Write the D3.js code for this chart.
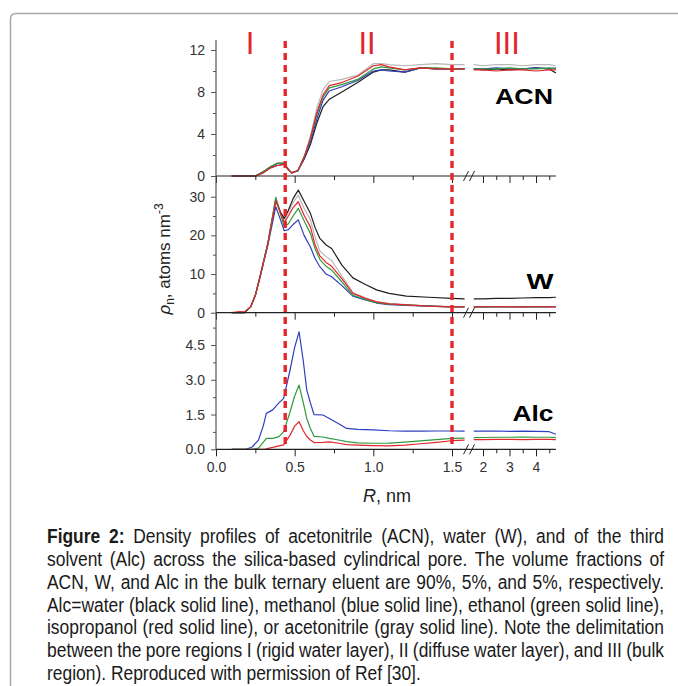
<!DOCTYPE html>
<html>
<head>
<meta charset="utf-8">
<script src="https://cdn.jsdelivr.net/npm/d3@7/dist/d3.min.js"></script>
<style>
  body { margin: 0; background: #fff; }
  svg { display: block; font-family: Arial, "Liberation Sans", sans-serif; }
</style>
</head>
<body>
<svg id="chart" width="678" height="686"></svg>
<script>
// ---- data (R in nm, density in atoms nm^-3) ----
var acnR     = [0.1, 0.25, 0.3, 0.35, 0.39, 0.43, 0.46, 0.48, 0.52, 0.56, 0.6, 0.64, 0.68, 0.72, 0.8, 0.9, 1.0, 1.05, 1.1, 1.2, 1.3, 1.4, 1.5, 1.58, 1.65, 2.0, 2.5, 3.0, 3.5, 4.0, 4.5, 4.75];
var acnBlack = [0, 0, 0.4, 0.9, 1.2, 1.2, 0.6, 0.3, 0.5, 1.6, 3.0, 5.0, 6.6, 7.3, 8.0, 8.9, 9.9, 10.1, 10.1, 9.9, 10.3, 10.2, 10.2, 10.2, 10.2, 10.1, 10.2, 10.1, 10.2, 10.3, 10.2, 9.8];
var acnBlue  = [0, 0, 0.3, 0.8, 1.0, 1.1, 0.6, 0.3, 0.5, 1.7, 3.2, 5.4, 7.2, 8.1, 8.5, 9.1, 10.0, 10.1, 10.0, 9.9, 10.3, 10.2, 10.2, 10.2, 10.2, 10.2, 10.3, 10.2, 10.2, 10.3, 10.2, 10.3];
var acnGreen = [0, 0, 0.4, 0.9, 1.2, 1.2, 0.6, 0.3, 0.5, 1.8, 3.5, 5.8, 7.5, 8.4, 8.7, 9.2, 10.2, 10.4, 10.3, 10.1, 10.3, 10.3, 10.2, 10.2, 10.2, 10.2, 10.2, 10.3, 10.2, 10.2, 10.3, 10.2];
var acnRed   = [0, 0, 0.3, 0.8, 1.0, 1.1, 0.6, 0.3, 0.5, 1.8, 3.6, 6.0, 7.7, 8.6, 8.9, 9.5, 10.5, 10.6, 10.4, 10.1, 10.3, 10.2, 10.2, 10.2, 10.1, 10.1, 10.0, 10.1, 10.1, 10.0, 10.1, 10.1];
var acnGray  = [0, 0, 0.4, 0.9, 1.2, 1.3, 0.7, 0.3, 0.5, 1.8, 3.8, 6.4, 8.2, 9.0, 9.2, 9.6, 10.7, 10.7, 10.6, 10.5, 10.6, 10.7, 10.6, 10.6, 10.6, 10.5, 10.6, 10.6, 10.5, 10.6, 10.6, 10.5];

var wR     = [0.1, 0.15, 0.18, 0.22, 0.25, 0.28, 0.33, 0.38, 0.41, 0.434, 0.46, 0.49, 0.523, 0.56, 0.6, 0.63, 0.66, 0.7, 0.735, 0.8, 0.87, 0.95, 1.02, 1.1, 1.21, 1.35, 1.5, 1.58, 1.65, 2.0, 2.5, 3.0, 3.5, 4.0, 4.5, 4.75];
var wBlack = [0, 0, 0, 1.5, 4.5, 9.3, 18, 29, 26, 24.4, 26.5, 29.5, 31.7, 28.8, 25.7, 22, 19.2, 17.5, 16.6, 12.3, 9.0, 7.3, 5.9, 5.0, 4.3, 4.0, 3.7, 3.6, 3.6, 3.6, 3.7, 3.7, 3.8, 3.9, 3.9, 4.0];
var wBlue  = [0, 0, 0, 1.5, 4.5, 9.3, 17.5, 27.4, 24, 21.2, 21.5, 22.8, 24, 20, 17, 14, 11.9, 10, 9.3, 7, 4.3, 3.3, 2.5, 2.1, 1.9, 1.7, 1.5, 1.5, 1.5, 1.5, 1.5, 1.5, 1.5, 1.5, 1.5, 1.5];
var wGreen = [0, 0, 0, 1.5, 4.5, 9.3, 18, 29.8, 25.5, 22.2, 23, 25, 27, 23.8, 20.5, 16.5, 13.8, 12, 11, 8, 4.5, 3.4, 2.6, 2.2, 2.0, 1.7, 1.5, 1.5, 1.5, 1.5, 1.5, 1.6, 1.5, 1.5, 1.6, 1.6];
var wRed   = [0, 0.3, 0.2, 1.5, 4.5, 9.3, 18, 29.0, 25.8, 23.3, 25, 27.2, 28.7, 25.2, 22.2, 17.5, 14.7, 13, 12, 8.8, 5.0, 3.7, 2.8, 2.3, 2.0, 1.7, 1.5, 1.5, 1.5, 1.5, 1.6, 1.5, 1.5, 1.6, 1.5, 1.5];
var wGray  = [0, 0, 0, 1.5, 4.5, 9.3, 18, 29.8, 26, 23.8, 26, 28.5, 30.4, 27, 24, 19.5, 16, 14.5, 13.5, 9.5, 5.2, 3.8, 2.9, 2.4, 2.1, 1.8, 1.6, 1.6, 1.6, 1.6, 1.6, 1.6, 1.6, 1.6, 1.6, 1.6];

var alcR     = [0.1, 0.19, 0.23, 0.27, 0.3, 0.32, 0.36, 0.4, 0.43, 0.47, 0.5, 0.528, 0.555, 0.577, 0.6, 0.623, 0.68, 0.72, 0.78, 0.83, 0.9, 1.0, 1.1, 1.2, 1.3, 1.4, 1.5, 1.58, 1.65, 2.0, 2.5, 3.0, 3.5, 4.0, 4.5, 4.75];
var alcBlue  = [0, 0, 0.1, 0.4, 1.0, 1.55, 1.7, 2.0, 2.2, 3.4, 4.4, 5.07, 3.8, 2.55, 2.0, 1.5, 1.48, 1.33, 1.1, 0.9, 0.86, 0.84, 0.8, 0.78, 0.78, 0.79, 0.79, 0.78, 0.78, 0.78, 0.79, 0.77, 0.78, 0.77, 0.76, 0.65];
var alcGreen = [0, 0, 0, 0.05, 0.3, 0.47, 0.47, 0.55, 0.76, 1.6, 2.3, 2.77, 2.0, 1.33, 0.9, 0.56, 0.53, 0.47, 0.4, 0.33, 0.28, 0.26, 0.27, 0.31, 0.36, 0.42, 0.47, 0.48, 0.5, 0.51, 0.52, 0.52, 0.53, 0.52, 0.52, 0.5];
var alcRed   = [0, 0, 0, 0, 0, 0.02, 0.08, 0.15, 0.19, 0.6, 1.0, 1.19, 0.8, 0.55, 0.4, 0.29, 0.3, 0.32, 0.26, 0.2, 0.18, 0.16, 0.15, 0.18, 0.24, 0.3, 0.37, 0.4, 0.42, 0.42, 0.43, 0.43, 0.42, 0.43, 0.43, 0.42];

// axis ticks
var acnTicks = [0, 4, 8, 12],   acnMinor = [2, 6, 10];
var wTicks   = [0, 10, 20, 30], wMinor   = [5, 15, 25];
var alcTicks = [0, 1.5, 3, 4.5], alcMinor = [0.75, 2.25, 3.75, 5.25];
var xTicksA = [0, 0.5, 1, 1.5], xMinorA = [0.25, 0.75, 1.25];
var xTicksB = [2, 3, 4],        xMinorB = [2.5, 3.5, 4.5];

// region boundaries and labels
var regionBounds = [0.44, 1.5];
var regionNames  = ['I', 'II', 'III'];
var regionAt     = [0.216, 0.96, 2.9];

var captionLines = [
  'Density profiles of acetonitrile (ACN), water (W), and of the third',
  'solvent (Alc) across the silica-based cylindrical pore. The volume fractions of',
  'ACN, W, and Alc in the bulk ternary eluent are 90%, 5%, and 5%, respectively.',
  'Alc=water (black solid line), methanol (blue solid line), ethanol (green solid line),',
  'isopropanol (red solid line), or acetonitrile (gray solid line). Note the delimitation',
  'between the pore regions I (rigid water layer), II (diffuse water layer), and III (bulk',
  'region). Reproduced with permission of Ref [30].'
];

var colors = { black: '#1e1e1e', blue: '#2d3fbf', green: '#2f9a3d', red: '#e2262c', gray: '#b7b7b7' };
var drawOrder = ['gray', 'black', 'blue', 'green', 'red'];

var svg = d3.select('#chart');

// frame
svg.append('path')
    .attr('d', 'M10.5,686 V19 Q10.5,13.5 16,13.5 H678')
    .attr('fill', 'none')
    .attr('stroke', '#a8a8a8')
    .attr('stroke-width', 1.5);

// broken x axis: two linear pieces
var xA = d3.scaleLinear().domain([0, 1.5]).range([216, 452]);
var xB = d3.scaleLinear().domain([2, 4]).range([483, 536]);
function xPos(r) { return r <= 1.6 ? xA(r) : xB(r); }
var xLeft = xA(0), xRight = xB(4.75);

var panels = [
  { label: 'ACN', r: acnR, s: { black: acnBlack, blue: acnBlue, green: acnGreen, red: acnRed, gray: acnGray },
    y: d3.scaleLinear().domain([0, 12]).range([176, 50]), top: 40, ticks: acnTicks, minor: acnMinor, fmt: d3.format('d'),
    lx: 495, ly: 103.5, lw: 58 },
  { label: 'W', r: wR, s: { black: wBlack, blue: wBlue, green: wGreen, red: wRed, gray: wGray },
    y: d3.scaleLinear().domain([0, 30]).range([312.7, 196.7]), top: 176, ticks: wTicks, minor: wMinor, fmt: d3.format('d'),
    lx: 526.5, ly: 288.5, lw: 27 },
  { label: 'Alc', r: alcR, s: { blue: alcBlue, green: alcGreen, red: alcRed },
    y: d3.scaleLinear().domain([0, 4.5]).range([449.3, 345]), top: 312.7, ticks: alcTicks, minor: alcMinor, fmt: d3.format('.1f'),
    lx: 512.5, ly: 420.5, lw: 41 }
];

panels.forEach(function(p, i) {
    var y = p.y;
    var y0 = y(0);
    var g = svg.append('g');

    // curves, split at the axis break
    var line = d3.line().x(function(d) { return xPos(d[0]); }).y(function(d) { return y(d[1]); });
    drawOrder.forEach(function(name) {
        if (!p.s[name]) return;
        var pts = p.r.map(function(r, k) { return [r, p.s[name][k]]; });
        [pts.filter(function(d) { return d[0] <= 1.6; }), pts.filter(function(d) { return d[0] > 1.6; })]
            .forEach(function(seg) {
                g.append('path')
                    .attr('d', line(seg))
                    .attr('fill', 'none')
                    .attr('stroke', colors[name])
                    .attr('stroke-width', 1.2)
                    .attr('stroke-linejoin', 'round');
            });
    });

    // x axis line + ticks
    g.append('line')
        .attr('x1', xLeft).attr('x2', xRight)
        .attr('y1', y0).attr('y2', y0)
        .attr('stroke', '#222').attr('stroke-width', 1.2);

    var last = i === panels.length - 1;
    [[xA, xTicksA, xMinorA], [xB, xTicksB, xMinorB]].forEach(function(a) {
        var major = g.append('g')
            .attr('transform', 'translate(0,' + y0 + ')')
            .call(d3.axisBottom(a[0]).tickValues(a[1]).tickSize(7).tickPadding(5.5));
        var minor = g.append('g')
            .attr('transform', 'translate(0,' + y0 + ')')
            .call(d3.axisBottom(a[0]).tickValues(a[2]).tickSize(4).tickFormat(''));
        [major, minor].forEach(function(ax) {
            ax.select('.domain').remove();
            ax.selectAll('line').attr('stroke', '#222');
        });
        major.selectAll('text')
            .attr('font-size', 14).attr('fill', '#333')
            .text(function(d) { return d >= 2 ? d3.format('d')(d) : d3.format('.1f')(d); });
        if (!last) major.selectAll('text').remove();
    });

    // axis break marks
    [466, 472].forEach(function(bx) {
        g.append('line')
            .attr('x1', bx - 2.5).attr('y1', y0 + 5)
            .attr('x2', bx + 2.5).attr('y2', y0 - 5)
            .attr('stroke', '#222').attr('stroke-width', 1);
    });

    // y axis
    var ya = g.append('g')
        .attr('transform', 'translate(' + xLeft + ',0)')
        .call(d3.axisLeft(y).tickValues(p.ticks).tickSize(5).tickPadding(6).tickFormat(p.fmt));
    ya.select('.domain').remove();
    ya.selectAll('line').attr('stroke', '#555');
    ya.selectAll('text').attr('font-size', 14).attr('fill', '#333');
    var ym = g.append('g')
        .attr('transform', 'translate(' + xLeft + ',0)')
        .call(d3.axisLeft(y).tickValues(p.minor).tickSize(3).tickFormat(''));
    ym.select('.domain').remove();
    ym.selectAll('line').attr('stroke', '#555');
    g.append('line')
        .attr('x1', xLeft).attr('x2', xLeft)
        .attr('y1', p.top).attr('y2', y0)
        .attr('stroke', '#555').attr('stroke-width', 1.2);

    // panel label
    g.append('text')
        .attr('x', p.lx).attr('y', p.ly)
        .attr('font-size', 22).attr('font-weight', 'bold')
        .attr('textLength', p.lw).attr('lengthAdjust', 'spacingAndGlyphs')
        .text(p.label);
});

// red dashed region boundaries
regionBounds.forEach(function(r) {
    svg.append('line')
        .attr('x1', xPos(r)).attr('x2', xPos(r))
        .attr('y1', 41).attr('y2', 446)
        .attr('stroke', '#e8252b').attr('stroke-width', 3.4)
        .attr('stroke-dasharray', '7,5');
});

// region numerals
regionNames.forEach(function(t, i) {
    svg.append('text')
        .attr('x', xPos(regionAt[i])).attr('y', 54)
        .attr('text-anchor', 'middle')
        .attr('font-size', 31).attr('fill', '#e2262c')
        .text(t);
});

// axis titles
var yl = svg.append('text')
    .attr('transform', 'translate(170,259) rotate(-90)')
    .attr('text-anchor', 'middle')
    .attr('font-size', 17).attr('fill', '#222');
yl.append('tspan').attr('font-style', 'italic').text('\u03C1');
yl.append('tspan').attr('font-size', 12).attr('dy', 4).text('n');
yl.append('tspan').attr('dy', -4).text(', atoms nm');
yl.append('tspan').attr('font-size', 12).attr('dy', -7).text('-3');

var xl = svg.append('text')
    .attr('x', 387).attr('y', 502)
    .attr('text-anchor', 'middle')
    .attr('font-size', 18).attr('fill', '#222');
xl.append('tspan').attr('font-style', 'italic').text('R');
xl.append('tspan').text(', nm');

// caption, justified lines in a condensed face
var capX = 47, capW = 617, capSize = 19.5, lastW = 374;
var capG = svg.append('g');
var texts = captionLines.map(function(s, i) {
    var gg = capG.append('g');
    var t = gg.append('text').attr('font-size', capSize).attr('fill', '#1a1a1a');
    if (i === 0) {
        t.append('tspan').attr('font-weight', 'bold').text('Figure 2:');
        t.append('tspan').text(' ' + s);
    } else {
        t.text(s);
    }
    return { g: gg, t: t, s: i === 0 ? 'Figure 2: ' + s : s };
});
var k = lastW / texts[texts.length - 1].t.node().getComputedTextLength();
texts.forEach(function(o, i) {
    var base = 680 - 22.8 * (texts.length - 1 - i);
    o.g.attr('transform', 'translate(' + capX + ',' + base + ') scale(' + k + ',1)');
    if (i < texts.length - 1) {
        var w = o.t.node().getComputedTextLength();
        var spaces = o.s.split(' ').length - 1;
        o.t.attr('word-spacing', (capW / k - w) / spaces);
    }
});
</script>
</body>
</html>
